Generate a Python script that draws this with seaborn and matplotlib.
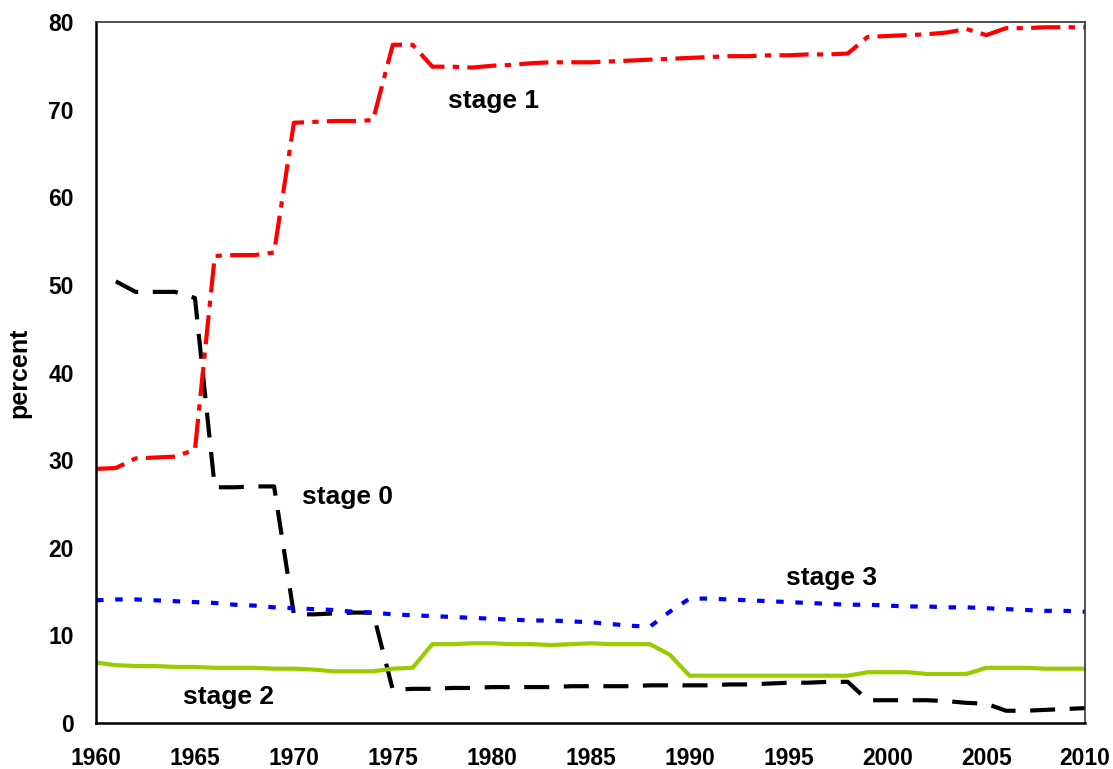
import numpy as np
import pandas as pd
import matplotlib
matplotlib.use("Agg")
import matplotlib.pyplot as plt
import seaborn as sns

years = list(range(1960, 2011))

# stage 0 starts in 1961
stage0_years = list(range(1961, 2011))
stage0 = [50.4, 49.2, 49.2, 49.2, 48.5, 26.9, 26.9, 27.0, 27.0, 12.4,
          12.4, 12.5, 12.6, 12.6, 3.8, 3.9, 3.9, 4.0, 4.0, 4.1,
          4.1, 4.1, 4.1, 4.2, 4.2, 4.2, 4.2, 4.3, 4.3, 4.3,
          4.3, 4.4, 4.4, 4.5, 4.6, 4.6, 4.7, 4.7, 2.6, 2.6,
          2.6, 2.6, 2.5, 2.3, 2.2, 1.4, 1.4, 1.5, 1.6, 1.7]

stage1 = [29.0, 29.1, 30.2, 30.3, 30.4, 31.2, 53.3, 53.4, 53.4, 53.7,
          68.5, 68.6, 68.7, 68.7, 68.8, 77.4, 77.4, 74.9, 74.9, 74.8,
          75.0, 75.1, 75.3, 75.4, 75.4, 75.4, 75.5, 75.6, 75.7, 75.8,
          75.9, 76.0, 76.1, 76.1, 76.2, 76.2, 76.3, 76.3, 76.4, 78.3,
          78.4, 78.5, 78.6, 78.8, 79.2, 78.5, 79.3, 79.3, 79.4, 79.4,
          79.4]

stage2 = [6.9, 6.6, 6.5, 6.5, 6.4, 6.4, 6.3, 6.3, 6.3, 6.2,
          6.2, 6.1, 5.9, 5.9, 5.9, 6.2, 6.3, 9.0, 9.0, 9.1,
          9.1, 9.0, 9.0, 8.9, 9.0, 9.1, 9.0, 9.0, 9.0, 7.8,
          5.4, 5.4, 5.4, 5.4, 5.4, 5.4, 5.4, 5.4, 5.4, 5.8,
          5.8, 5.8, 5.6, 5.6, 5.6, 6.3, 6.3, 6.3, 6.2, 6.2,
          6.2]

stage3 = [14.0, 14.1, 14.1, 14.0, 13.9, 13.8, 13.7, 13.5, 13.4, 13.2,
          13.1, 13.0, 12.9, 12.7, 12.6, 12.4, 12.3, 12.2, 12.1, 12.0,
          11.9, 11.8, 11.7, 11.7, 11.6, 11.5, 11.3, 11.1, 11.0, 12.7,
          14.2, 14.2, 14.1, 14.0, 13.9, 13.8, 13.7, 13.6, 13.5, 13.5,
          13.4, 13.3, 13.3, 13.2, 13.2, 13.1, 13.0, 12.9, 12.8, 12.8,
          12.7]

labels = ["stage 0", "stage 1", "stage 2", "stage 3"]
label_pos = [(1972.7, 25.8), (1980.1, 71.0), (1966.7, 3.0), (1997.2, 16.6)]

sns.set_style("white")
plt.rcParams['font.family'] = ['Liberation Sans', 'DejaVu Sans']
plt.rcParams['text.color'] = 'black'
plt.rcParams['xtick.color'] = '#555555'
plt.rcParams['ytick.color'] = '#555555'
plt.rcParams['xtick.labelcolor'] = 'black'
plt.rcParams['ytick.labelcolor'] = 'black'
plt.rcParams['axes.labelcolor'] = 'black'

df0 = pd.DataFrame({'year': stage0_years, 'percent': stage0})
df = pd.DataFrame({'year': years, 'stage1': stage1, 'stage2': stage2, 'stage3': stage3})

fig = plt.figure(figsize=(11.13, 7.69), dpi=100)
ax = fig.add_axes([0.0863, 0.0598, 0.8887, 0.9116])

sns.lineplot(data=df0, x='year', y='percent', ax=ax, color='black', lw=3)
ax.lines[-1].set_dashes([6, 3.5])
sns.lineplot(data=df, x='year', y='stage1', ax=ax, color='#FF0000', lw=3)
ax.lines[-1].set_dashes([7, 2, 1.5, 2])
sns.lineplot(data=df, x='year', y='stage2', ax=ax, color='#99CC00', lw=3)
sns.lineplot(data=df, x='year', y='stage3', ax=ax, color='#0000FF', lw=3)
ax.lines[-1].set_dashes([1.8, 2.8])

for lab, (x, y) in zip(labels, label_pos):
    ax.text(x, y, lab, ha='center', va='center', fontsize=19, fontweight='bold',
            color='black')

ax.set_xlim(1960, 2010)
ax.set_ylim(0, 80)
ax.set_xticks(range(1960, 2011, 5))
ax.set_yticks(range(0, 81, 10))
ax.tick_params(axis='both', direction='out', length=8, width=1, labelsize=16.5)
ax.tick_params(axis='x', pad=9)
ax.tick_params(axis='y', pad=8)
for t in ax.get_xticklabels() + ax.get_yticklabels():
    t.set_fontweight('bold')
ax.set_xlabel('')
ax.set_ylabel('percent', fontsize=18, fontweight='bold', labelpad=12)

for side in ['left', 'bottom']:
    ax.spines[side].set_color('black')
    ax.spines[side].set_linewidth(1.8)
for side in ['top', 'right']:
    ax.spines[side].set_color('#333333')
    ax.spines[side].set_linewidth(1.2)

plt.savefig('out.png', dpi=100)
